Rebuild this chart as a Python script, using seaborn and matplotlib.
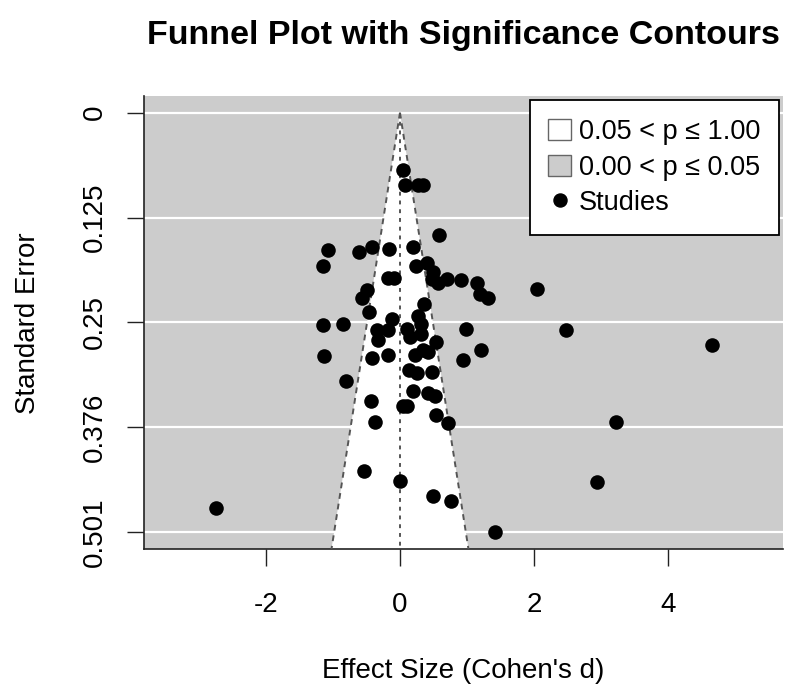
import matplotlib
matplotlib.use("Agg")
import matplotlib.pyplot as plt
from matplotlib.patches import Patch, Polygon
from matplotlib.lines import Line2D
import numpy as np
import pandas as pd
import seaborn as sns

# study effect sizes (Cohen's d) and their standard errors
effect_size = [
    0.045, 0.075, 0.269, 0.343, 0.582, -1.075, -0.612, -0.418, -0.164, 0.194,
    -1.149, 0.239, 0.403, 0.493, -0.179, -0.090, 0.478, 0.701, 0.910, 1.149,
    0.567, 2.045, 1.194, 1.313, -0.493, -0.567, 0.358, -0.463, -0.119, 0.269,
    0.313, -1.149, -0.851, -0.343, -0.179, 0.104, -0.328, 0.149, 0.313, 0.985,
    0.537, 1.209, -1.134, -0.418, -0.179, 0.343, 0.418, 0.224, 0.940, 0.134,
    0.254, 0.478, -0.806, 0.194, 0.418, 0.522, -0.433, 0.045, 0.104, 0.537,
    -0.373, 0.716, -0.537, 0.000, 0.493, 0.761, 1.418, -2.746, 2.478, 4.657,
    3.224, 2.940,
]
std_error = [
    0.068, 0.086, 0.086, 0.086, 0.146, 0.164, 0.167, 0.161, 0.163, 0.160,
    0.183, 0.183, 0.180, 0.190, 0.197, 0.197, 0.199, 0.199, 0.200, 0.203,
    0.204, 0.211, 0.217, 0.221, 0.212, 0.222, 0.229, 0.238, 0.247, 0.243,
    0.252, 0.254, 0.252, 0.260, 0.260, 0.258, 0.272, 0.268, 0.265, 0.259,
    0.274, 0.283, 0.291, 0.293, 0.290, 0.284, 0.286, 0.290, 0.296, 0.308,
    0.311, 0.310, 0.321, 0.332, 0.335, 0.338, 0.345, 0.350, 0.350, 0.361,
    0.370, 0.371, 0.428, 0.440, 0.458, 0.464, 0.501, 0.472, 0.260, 0.278,
    0.370, 0.441,
]

se_ticks = [0, 0.12525, 0.2505, 0.37575, 0.501]
se_labels = ["0", "0.125", "0.25", "0.376", "0.501"]
x_ticks = [-2, 0, 2, 4]
legend_labels = ["0.05 < p \u2264 1.00", "0.00 < p \u2264 0.05", "Studies"]

GREY = "#CCCCCC"
W, H = 800, 699

sns.set_style("white")
plt.rcParams["font.family"] = ["Liberation Sans", "DejaVu Sans"]
plt.rcParams["text.color"] = "black"

df = pd.DataFrame({"yi": effect_size, "sei": std_error})

fig = plt.figure(figsize=(W / 100, H / 100), dpi=100)
ax = fig.add_axes([144 / W, 1 - 549 / H, (783 - 144) / W, (549 - 96) / H])
ax.set_facecolor(GREY)

ax.set_xlim(-3.82, 5.716)
ax.set_ylim(0.5214, -0.0200)

# white grid lines at the se ticks
for t in se_ticks:
    ax.axhline(t, color="white", lw=1.6, zorder=1)

# non-significant region (white funnel)
ybot = 0.7
z = 1.959964
ax.add_patch(Polygon([[0, 0], [-z * ybot, ybot], [z * ybot, ybot]],
                     closed=True, facecolor="white", edgecolor="none", zorder=2))
ax.plot([0, -z * ybot], [0, ybot], color="#555555", lw=1.4, ls=(0, (3, 2.5)), zorder=3)
ax.plot([0, z * ybot], [0, ybot], color="#555555", lw=1.4, ls=(0, (3, 2.5)), zorder=3)
ax.plot([0, 0], [0, ybot], color="#555555", lw=1.4, ls=(0, (2, 2.5)), zorder=3)

sns.scatterplot(data=df, x="yi", y="sei", color="black", s=110,
                linewidth=0, ax=ax, zorder=4, legend=False)

ax.set_xlabel("")
ax.set_ylabel("")
ax.set_xticks(x_ticks)
ax.set_xticklabels([str(v) for v in x_ticks])
ax.set_yticks(se_ticks)
ax.set_yticklabels(se_labels)
ax.tick_params(axis="both", direction="out", length=12.2, width=1.0,
               color="#222222", labelsize=20, labelcolor="black",
               bottom=True, left=True)
ax.tick_params(axis="x", pad=19)
ax.tick_params(axis="y", pad=14)
plt.setp(ax.get_yticklabels(), rotation=90, va="center", ha="right")

for s in ["top", "right"]:
    ax.spines[s].set_visible(False)
for s in ["left", "bottom"]:
    ax.spines[s].set_color("#222222")
    ax.spines[s].set_linewidth(1.2)

# texts
cx = (144 + 783) / 2 / W
fig.text(cx, 1 - 44 / H, "Funnel Plot with Significance Contours",
         ha="center", va="baseline", fontsize=24.5, fontweight="bold")
fig.text(cx, 1 - 678 / H, "Effect Size (Cohen's d)",
         ha="center", va="baseline", fontsize=20)
fig.text(35 / W, 1 - 323 / H, "Standard Error", rotation=90,
         rotation_mode="anchor", ha="center", va="baseline", fontsize=20)

handles = [
    Patch(facecolor="white", edgecolor="#666666", linewidth=1.0),
    Patch(facecolor=GREY, edgecolor="#666666", linewidth=1.0),
    Line2D([], [], marker="o", color="black", ls="none", markersize=9.4),
]
leg = ax.legend(handles, legend_labels, loc="upper right",
                bbox_to_anchor=(0.994, 0.991), borderaxespad=0,
                fontsize=19.5, frameon=True, fancybox=False, framealpha=1,
                edgecolor="black", borderpad=0.7, labelspacing=0.35,
                handlelength=0.82, handleheight=0.82, handletextpad=0.3)
leg.get_frame().set_linewidth(1.3)
leg.set_zorder(10)

fig.savefig("out.png", dpi=100)
